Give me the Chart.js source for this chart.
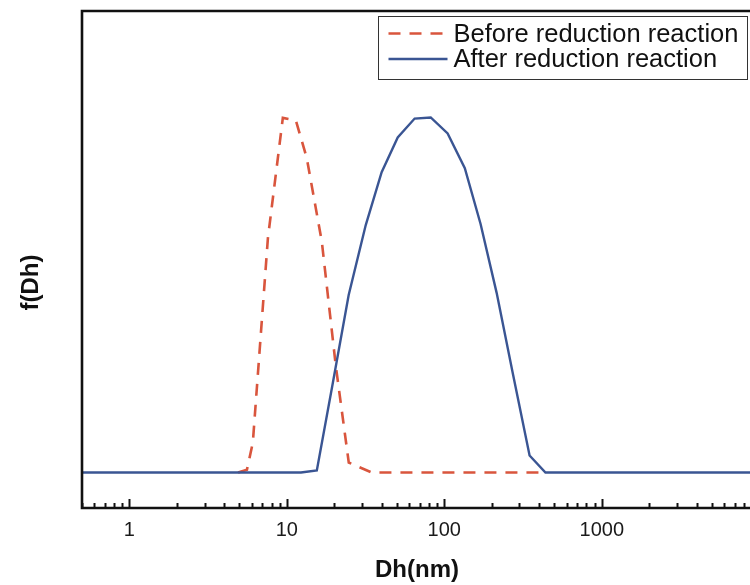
<!DOCTYPE html>
<html>
<head>
<meta charset="utf-8">
<script src="https://cdn.jsdelivr.net/npm/chart.js@4.4.1/dist/chart.umd.min.js"></script>
<style>
  html, body { margin: 0; padding: 0; background: #fff; overflow: hidden; }
  #chart__wrap { width: 754px; height: 585px; }
</style>
</head>
<body>
<div id="chart__wrap"><canvas id="chart-canvas" width="754" height="585"></canvas></div>
<script>
// Dh (nm) and f(Dh), normalised to the peak height
const beforeSize = [4.9, 5.58, 6.08, 7.58, 9.43, 11.41, 13.39, 16.68, 20.46, 24.73, 34.6, 432];
const beforeF    = [0, 0.008, 0.084, 0.66, 0.999, 0.992, 0.885, 0.65, 0.3, 0.028, 0, 0];

const afterSize = [0.4, 12.3, 15.5, 19.6, 24.7, 31.7, 40, 50.6, 64.8, 82, 105, 135, 170, 215, 271, 348, 439, 10000];
const afterF    = [0, 0, 0.006, 0.253, 0.5, 0.697, 0.846, 0.944, 0.997, 1.0, 0.955, 0.857, 0.70, 0.506, 0.284, 0.048, 0, 0];

const seriesLabels = ["Before reduction reaction", "After reduction reaction"];
const xTickValues = [1, 10, 100, 1000];
const xTickLabels = ["1", "10", "100", "1000"];
const yTitle = "f(Dh)";

const RED = "#d9553d";
const BLUE = "#3a5593";
const FONT = "'Liberation Sans', Arial, sans-serif";

const toPoints = (xs, ys) => xs.map((x, i) => ({ x: x, y: ys[i] }));

// axis frame + inward tick marks + y title (sits a bit below centre in the original)
const framePlugin = {
  id: "frame",
  afterDraw(chart) {
    const ctx = chart.ctx;
    const { left, right, top, bottom } = chart.chartArea;
    const xs = chart.scales.x;
    ctx.save();
    ctx.strokeStyle = "#111";
    ctx.lineWidth = 2.6;
    ctx.beginPath();
    ctx.moveTo(right + 10, top);
    ctx.lineTo(left, top);
    ctx.lineTo(left, bottom);
    ctx.lineTo(right + 10, bottom);
    ctx.stroke();

    ctx.lineWidth = 2;
    const d0 = Math.floor(Math.log10(xs.min));
    const d1 = Math.ceil(Math.log10(xs.max));
    for (let d = d0; d <= d1; d++) {
      for (let m = 1; m <= 9; m++) {
        const v = m * Math.pow(10, d);
        if (v < xs.min || v > xs.max) continue;
        const px = Math.round(xs.getPixelForValue(v)) + 0.5;
        const len = m === 1 ? 9 : 5;
        ctx.beginPath();
        ctx.moveTo(px, bottom);
        ctx.lineTo(px, bottom - len);
        ctx.stroke();
      }
    }

    ctx.translate(31, (top + bottom) / 2 + 23);
    ctx.rotate(-Math.PI / 2);
    ctx.font = "bold 24px " + FONT;
    ctx.fillStyle = "#111";
    ctx.textAlign = "center";
    ctx.textBaseline = "middle";
    ctx.fillText(yTitle, 0, 0);
    ctx.restore();
  },
};

// boxed legend in the top right corner
const legendPlugin = {
  id: "boxLegend",
  afterDraw(chart) {
    const ctx = chart.ctx;
    const { right, top } = chart.chartArea;
    const boxL = right - 373.5, boxT = top + 5.5, boxW = 369, boxH = 63;
    ctx.save();
    ctx.fillStyle = "#fff";
    ctx.fillRect(boxL, boxT, boxW, boxH);
    ctx.strokeStyle = "#333";
    ctx.lineWidth = 1;
    ctx.strokeRect(boxL, boxT, boxW, boxH);

    ctx.font = "25.5px " + FONT;
    ctx.textBaseline = "middle";
    chart.data.datasets.forEach((ds, i) => {
      const y = boxT + 17 + i * 25.5;
      ctx.strokeStyle = ds.borderColor;
      ctx.lineWidth = ds.borderWidth;
      ctx.setLineDash(ds.borderDash || []);
      ctx.beginPath();
      ctx.moveTo(boxL + 10, y);
      ctx.lineTo(boxL + 69, y);
      ctx.stroke();
      ctx.setLineDash([]);
      ctx.fillStyle = "#111";
      ctx.fillText(ds.label, boxL + 75, y + 1);
    });
    ctx.restore();
  },
};

const data = {
  datasets: [
    {
      label: seriesLabels[0],
      data: toPoints(beforeSize, beforeF),
      borderColor: RED,
      borderWidth: 2.6,
      borderDash: [12, 9],
      pointRadius: 0,
      tension: 0,
      fill: false,
      order: 1,
    },
    {
      label: seriesLabels[1],
      data: toPoints(afterSize, afterF),
      borderColor: BLUE,
      borderWidth: 2.4,
      pointRadius: 0,
      tension: 0,
      fill: false,
      order: 0,
    },
  ],
};

const config = {
  type: "line",
  data: data,
  options: {
    responsive: false,
    animation: false,
    devicePixelRatio: 1,
    layout: { padding: { top: 11, right: 2, left: 0, bottom: 0 } },
    plugins: { legend: { display: false }, tooltip: { enabled: false } },
    scales: {
      x: {
        type: "logarithmic",
        min: 0.5,
        max: 9000,
        grid: { display: false, drawTicks: false },
        border: { display: false },
        afterBuildTicks: (scale) => {
          scale.ticks = xTickValues.map((v) => ({ value: v }));
        },
        afterFit: (scale) => { scale.height = 77; },
        ticks: {
          autoSkip: false,
          maxRotation: 0,
          padding: 10,
          color: "#1a1a1a",
          font: { family: FONT, size: 20 },
          callback: (value) => {
            const i = xTickValues.indexOf(value);
            return i >= 0 ? xTickLabels[i] : "";
          },
        },
        title: {
          display: true,
          text: "Dh(nm)",
          color: "#111",
          font: { family: FONT, size: 24, weight: "bold" },
          padding: { top: 0, bottom: 0 },
        },
      },
      y: {
        min: -0.1,
        max: 1.3,
        grid: { display: false, drawTicks: false },
        border: { display: false },
        ticks: { display: false },
        afterFit: (scale) => { scale.width = 82; },
      },
    },
  },
  plugins: [framePlugin, legendPlugin],
};

const myChart = new Chart(document.getElementById("chart-canvas"), config);
</script>
</body>
</html>
